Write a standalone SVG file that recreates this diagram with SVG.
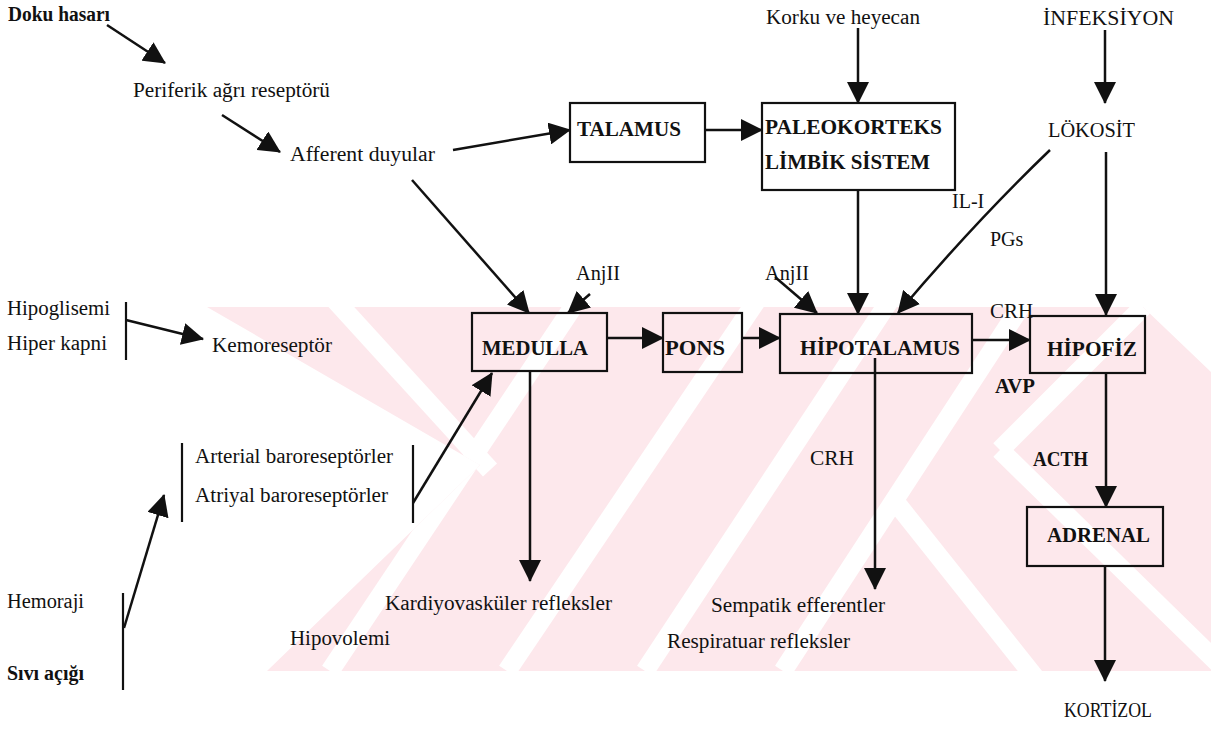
<svg xmlns="http://www.w3.org/2000/svg" width="1211" height="733" viewBox="0 0 1211 733">
<defs>
<marker id="ah" markerUnits="userSpaceOnUse" markerWidth="22" markerHeight="22" refX="21" refY="11" orient="auto" viewBox="0 0 22 22"><path d="M0,0 L22,11 L0,22 Z" fill="#111"/></marker>
<clipPath id="wm"><polygon points="207,307 1143,307 1211,372 1211,671 267,671 480,465"/></clipPath>
</defs>
<style>
text{font-family:"Liberation Serif","Times New Roman",serif;font-size:20px;fill:#111;}
.b{font-weight:bold;}
.box{fill:none;stroke:#111;stroke-width:2.2;}
.c{fill:none;stroke:#111;stroke-width:2.5;marker-end:url(#ah);}
.ln{fill:none;stroke:#111;stroke-width:2.2;}
.ws{stroke:#fff;stroke-width:19;fill:none;}
</style>
<rect width="1211" height="733" fill="#fff"/>
<g id="watermark" clip-path="url(#wm)">
<rect x="200" y="300" width="1011" height="380" fill="#fde8ec"/>
<path class="ws" d="M335,300 L490,470"/>
<path class="ws" d="M330,671 L573,307"/>
<path class="ws" d="M507,671 L757,300"/>
<path class="ws" d="M645,671 L890,300"/>
<path class="ws" d="M783,671 L1025,300"/>
<path class="ws" d="M890,495 L1045,690"/>
<path class="ws" d="M1000,450 L1150,300"/>
<path class="ws" d="M1000,450 L1225,670"/>
</g>
<g id="connectors">
<path class="c" d="M107,25 L165,63"/>
<path class="c" d="M222,115 L280,152"/>
<path class="c" d="M453,150 L570,130"/>
<path class="c" d="M705,130 L762,130"/>
<path class="c" d="M858,28 L858,103"/>
<path class="c" d="M1105,30 L1105,103"/>
<path class="c" d="M1050,150 Q975,222 898,313"/>
<path class="c" d="M1106,152 L1106,315"/>
<path class="c" d="M858,190 L858,314"/>
<path class="c" d="M412,180 L529,313"/>
<path class="c" d="M590,294 L568,313"/>
<path class="c" d="M775,277 L817,313"/>
<path class="c" d="M607,338 L663,338"/>
<path class="c" d="M742,338 L780,338"/>
<path class="c" d="M972,340 L1030,340"/>
<path class="c" d="M1106,373 L1106,507"/>
<path class="c" d="M1105,566 L1105,681"/>
<path class="c" d="M875,358 L875,589"/>
<path class="c" d="M530,371 L530,581"/>
<path class="c" d="M413,503 L492,373"/>
<path class="c" d="M126,320 L203,339"/>
<path class="c" d="M124,628 L164,495"/>
<path class="ln" d="M126,302 L126,360"/>
<path class="ln" d="M182,443 L182,522"/>
<path class="ln" d="M413,445 L413,523"/>
<path class="ln" d="M123,593 L123,690"/>
</g>
<g id="doku"><text class="b" x="8" y="21" font-size="19" textLength="102" lengthAdjust="spacingAndGlyphs">Doku hasarı</text></g>
<g id="periferik"><text x="133" y="97" textLength="197" lengthAdjust="spacingAndGlyphs">Periferik ağrı reseptörü</text></g>
<g id="afferent"><text x="290" y="161" textLength="145" lengthAdjust="spacingAndGlyphs">Afferent duyular</text></g>
<g id="talamus"><rect class="box" x="570" y="103" width="135" height="59"/><text class="b" x="577" y="136" textLength="104" lengthAdjust="spacingAndGlyphs">TALAMUS</text></g>
<g id="paleokorteks"><rect class="box" x="762" y="103" width="193" height="87"/><text class="b" x="765" y="134" textLength="177" lengthAdjust="spacingAndGlyphs">PALEOKORTEKS</text><text class="b" x="765" y="169" textLength="165" lengthAdjust="spacingAndGlyphs">LİMBİK SİSTEM</text></g>
<g id="korku"><text x="766" y="24" textLength="154" lengthAdjust="spacingAndGlyphs">Korku ve heyecan</text></g>
<g id="infeksiyon"><text x="1043" y="25" textLength="131" lengthAdjust="spacingAndGlyphs">İNFEKSİYON</text></g>
<g id="lokosit"><text x="1048" y="137" textLength="87" lengthAdjust="spacingAndGlyphs">LÖKOSİT</text></g>
<g id="il1"><text x="952" y="208">IL-I</text></g>
<g id="pgs"><text x="990" y="246">PGs</text></g>
<g id="medulla"><rect class="box" x="472" y="313" width="135" height="58"/><text class="b" x="482" y="355" textLength="106" lengthAdjust="spacingAndGlyphs">MEDULLA</text></g>
<g id="pons"><rect class="box" x="663" y="313" width="79" height="59"/><text class="b" x="665" y="355" textLength="60" lengthAdjust="spacingAndGlyphs">PONS</text></g>
<g id="hipotalamus"><rect class="box" x="780" y="314" width="192" height="59"/><text class="b" x="800" y="355" textLength="160" lengthAdjust="spacingAndGlyphs">HİPOTALAMUS</text></g>
<g id="hipofiz"><rect class="box" x="1030" y="316" width="115" height="57"/><text class="b" x="1047" y="356" textLength="90" lengthAdjust="spacingAndGlyphs">HİPOFİZ</text></g>
<g id="adrenal"><rect class="box" x="1027" y="507" width="136" height="59"/><text class="b" x="1047" y="542" textLength="103" lengthAdjust="spacingAndGlyphs">ADRENAL</text></g>
<g id="kortizol"><text x="1064" y="717" font-size="19" textLength="88" lengthAdjust="spacingAndGlyphs">KORTİZOL</text></g>
<g id="anj1"><text x="576" y="280" textLength="44" lengthAdjust="spacingAndGlyphs">AnjII</text></g>
<g id="anj2"><text x="765" y="280" textLength="44" lengthAdjust="spacingAndGlyphs">AnjII</text></g>
<g id="crh1"><text x="990" y="318" textLength="43" lengthAdjust="spacingAndGlyphs">CRH</text></g>
<g id="avp"><text class="b" x="995" y="393" font-size="19" textLength="40" lengthAdjust="spacingAndGlyphs">AVP</text></g>
<g id="acth"><text class="b" x="1033" y="466" font-size="19" textLength="55" lengthAdjust="spacingAndGlyphs">ACTH</text></g>
<g id="crh2"><text x="810" y="465" textLength="44" lengthAdjust="spacingAndGlyphs">CRH</text></g>
<g id="sempatik"><text x="711" y="612" textLength="174" lengthAdjust="spacingAndGlyphs">Sempatik efferentler</text></g>
<g id="respiratuar"><text x="667" y="648" textLength="183" lengthAdjust="spacingAndGlyphs">Respiratuar refleksler</text></g>
<g id="kardiyo"><text x="385" y="610" textLength="227" lengthAdjust="spacingAndGlyphs">Kardiyovasküler refleksler</text></g>
<g id="hipovolemi"><text x="290" y="645" textLength="100" lengthAdjust="spacingAndGlyphs">Hipovolemi</text></g>
<g id="hipoglisemi"><text x="7" y="315" textLength="103" lengthAdjust="spacingAndGlyphs">Hipoglisemi</text></g>
<g id="hiperkapni"><text x="7" y="350" textLength="100" lengthAdjust="spacingAndGlyphs">Hiper kapni</text></g>
<g id="kemoreseptor"><text x="212" y="352" textLength="120" lengthAdjust="spacingAndGlyphs">Kemoreseptör</text></g>
<g id="arterial"><text x="195" y="463" textLength="198" lengthAdjust="spacingAndGlyphs">Arterial baroreseptörler</text></g>
<g id="atriyal"><text x="195" y="502" textLength="193" lengthAdjust="spacingAndGlyphs">Atriyal baroreseptörler</text></g>
<g id="hemoraji"><text x="7" y="608" textLength="77" lengthAdjust="spacingAndGlyphs">Hemoraji</text></g>
<g id="sivi"><text class="b" x="7" y="680" font-size="19" textLength="77" lengthAdjust="spacingAndGlyphs">Sıvı açığı</text></g>
</svg>
